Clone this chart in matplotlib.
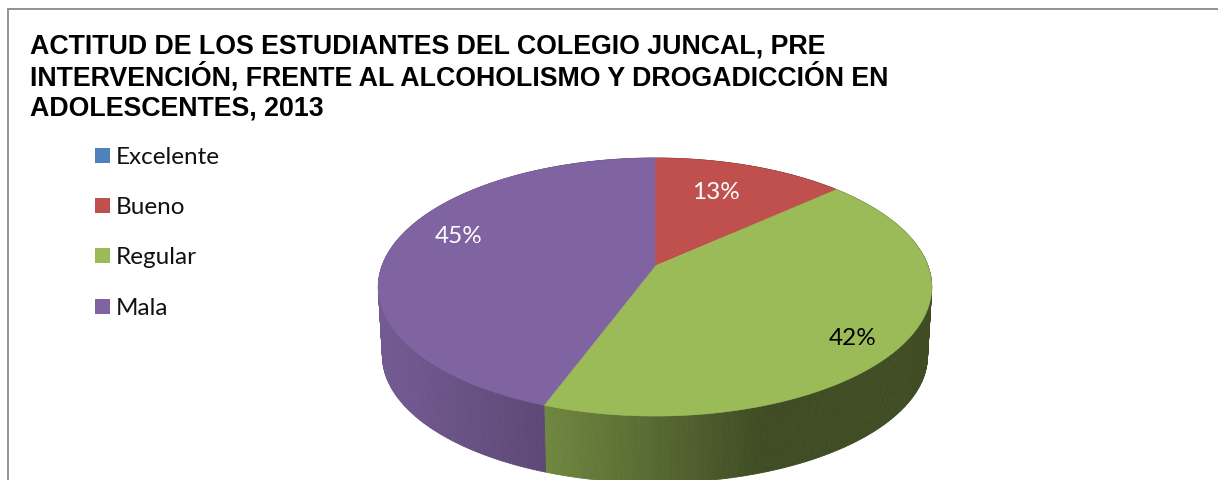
import numpy as np
import matplotlib
matplotlib.use("Agg")
import matplotlib.pyplot as plt
from matplotlib.patches import Rectangle

title_lines = ["ACTITUD DE LOS ESTUDIANTES DEL COLEGIO JUNCAL, PRE",
               "INTERVENCIÓN, FRENTE AL ALCOHOLISMO Y DROGADICCIÓN EN",
               "ADOLESCENTES, 2013"]
categories = ["Excelente", "Bueno", "Regular", "Mala"]
values = [0.0, 13.2, 42.4, 44.4]
pct_labels = [None, "13%", "42%", "45%"]
colors = ["#4F81BD", "#C0504D", "#9BBB59", "#8064A2"]
label_colors = [None, "white", "black", "white"]
label_pos = [None, (716, 193), (853, 339), (459, 237)]
legend_y = [158, 208, 258, 309]

W, H = 1218, 481
fig = plt.figure(figsize=(W / 100, H / 100), dpi=100)
ax = fig.add_axes([0, 0, 1, 1])
ax.set_xlim(0, W)
ax.set_ylim(H, 0)
ax.axis("off")

# frame
ax.plot([8, 8, W], [H, 10, 10], color="#8a8a8a", lw=1.3, solid_joinstyle="miter")

# title
for line, y in zip(title_lines, [54, 85, 116]):
    ax.text(30, y, line, family="Liberation Sans", weight="bold", fontsize=19.25,
            va="baseline", ha="left", color="black")

# legend
for name, col, y in zip(categories, colors, legend_y):
    ax.add_patch(Rectangle((95, y - 9.5), 15, 15, facecolor=col, edgecolor="none"))
    ax.text(116, y, name, family="Lato", fontsize=17.5, va="center", ha="left", color="#111111")

# perspective pie
CX, CY, A, B, K = 655.0, 267.0, 273.0, 125.6, 0.163
DEPTH, SHRINK = 69.0, 0.985


def project(theta):
    u, v = np.sin(theta), np.cos(theta)
    w = 1 + K * v
    return A * u / w, B * v / w


def shade(x):
    return np.interp(x, [385, 545, 760, 935], [0.90, 0.72, 0.41, 0.41])


fractions = np.array(values) / np.sum(values)
edges = np.concatenate([[0], np.cumsum(fractions)]) * 2 * np.pi

# side wall
for i, col in enumerate(colors):
    if values[i] <= 0:
        continue
    base = np.array(matplotlib.colors.to_rgb(col))
    th = np.linspace(edges[i], edges[i + 1], max(int(values[i] * 6), 2))
    X, Y = project(th)
    xt, yt = CX + X, CY - Y
    xb, yb = CX + SHRINK * X, CY + DEPTH - SHRINK * Y
    for j in range(len(th) - 1):
        c = base * shade((xt[j] + xt[j + 1]) / 2)
        ax.fill([xt[j], xt[j + 1], xb[j + 1], xb[j]],
                [yt[j], yt[j + 1], yb[j + 1], yb[j]],
                facecolor=c, edgecolor=c, lw=0.6, zorder=2)

# top faces
for i, col in enumerate(colors):
    if values[i] <= 0:
        continue
    th = np.linspace(edges[i], edges[i + 1], 200)
    X, Y = project(th)
    ax.fill(np.r_[CX, CX + X], np.r_[CY, CY - Y], facecolor=col, edgecolor=col, lw=0.4, zorder=3)

# labels
for lab, c, pos in zip(pct_labels, label_colors, label_pos):
    if lab:
        ax.text(pos[0], pos[1], lab, family="Lato", fontsize=17.5, color=c,
                ha="center", va="center", zorder=4)

fig.savefig("out.png", dpi=100, facecolor="white")
